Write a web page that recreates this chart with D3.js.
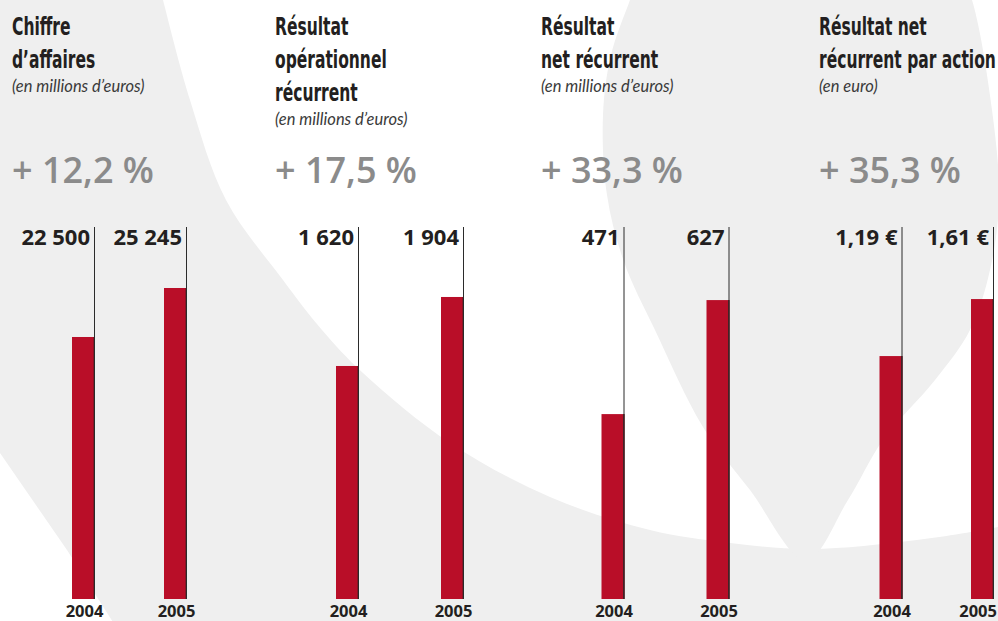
<!DOCTYPE html>
<html>
<head>
<meta charset="utf-8">
<script src="https://cdn.jsdelivr.net/npm/d3@7"></script>
<style>
  html, body { margin: 0; padding: 0; background: #ffffff; }
  svg { display: block; }
</style>
</head>
<body>
<svg id="chart" width="998" height="621"></svg>
<script>
// ---------------- DATA ----------------
const years = ["2004", "2005"];
const titles = [
  ["Chiffre", "d’affaires"],
  ["Résultat", "opérationnel", "récurrent"],
  ["Résultat", "net récurrent"],
  ["Résultat net", "récurrent par action"]
];
const units = [
  "(en millions d’euros)",
  "(en millions d’euros)",
  "(en millions d’euros)",
  "(en euro)"
];
const growthLabels = ["+ 12,2 %", "+ 17,5 %", "+ 33,3 %", "+ 35,3 %"];
const values2004 = [22500, 1620, 471, 1.19];
const values2005 = [25245, 1904, 627, 1.61];
const valueSuffix = ["", "", "", " €"];
const valueDecimals = [0, 0, 0, 2];
// value axis extent of each small chart (bars do not start at zero)
const axisFloor = [7822, 661, 218, -0.6];
const axisCeil = [28662, 2192, 727, 2.141];

// ---------------- LAYOUT ----------------
const W = 998, H = 621;
const panelX = [12, 275, 541, 819];
const barCenterOffsets = [[71.5, 163.5], [72.5, 177.5], [72, 177], [72, 163.5]];
const baseY = 599, topY = 227, barW = 23;
const grey = "#efefef";

const fr = d3.formatLocale({decimal: ",", thousands: " ", grouping: [3], currency: ["", " €"]});

const svg = d3.select("#chart");

// ---------------- BACKGROUND (decorative logo shapes) ----------------
svg.append("rect").attr("width", W).attr("height", H).attr("fill", grey);

const curve = d3.line().curve(d3.curveCatmullRom.alpha(0.5));
const discEdge = [[158,-20],[163,0],[190,100],[226,200],[283,280],[322,330],[363,373],
  [450,443],[550,497],[650,530],[730,543],[810,549],[917,540],[998,527],[1020,522]];
svg.append("path")
  .attr("d", curve(discEdge) + "L1030,-30L150,-30Z")
  .attr("fill", "#ffffff");

const dropEdge = [[645,-40],[630,0],[611,55],[603,115],[607,195],[624,262],[655,330],
  [703,427],[750,490],[806,560],[848,500],[883,440],[935,380],[970,330],[990,270],
  [999,200],[992,110],[972,0],[955,-40]];
svg.append("path")
  .attr("d", curve(dropEdge) + "Z")
  .attr("fill", grey);

svg.append("path")
  .attr("d", d3.line()([[-10,438],[0,453],[67,550],[118,630],[-10,630]]) + "Z")
  .attr("fill", "#ffffff");

// ---------------- PANELS ----------------
const titleFont = "'DejaVu Sans Condensed', 'Liberation Sans Narrow', sans-serif";
const bodyFont = "'Open Sans', 'Noto Sans', sans-serif";

// horizontal compression of the condensed title face, so that the longest
// title line spans the same width as in the original artwork
const probe = svg.append("text")
  .attr("font-family", titleFont).attr("font-weight", "bold").attr("font-size", 24)
  .text("récurrent par action");
const titleScale = 177 / probe.node().getComputedTextLength();
probe.remove();

titles.forEach((lines, i) => {
  const g = svg.append("g").attr("transform", `translate(${panelX[i]},0)`);

  const tg = g.append("g").attr("transform", `scale(${titleScale},1)`);
  lines.forEach((t, j) => {
    tg.append("text")
      .attr("x", 0).attr("y", 35 + j * 33)
      .attr("font-family", titleFont)
      .attr("font-weight", "bold")
      .attr("font-size", 24)
      .attr("fill", "#231f20")
      .text(t);
  });
  const lastY = 35 + (lines.length - 1) * 33;
  g.append("text")
    .attr("x", 0).attr("y", lastY + 24)
    .attr("font-family", "Lato, 'Open Sans', sans-serif")
    .attr("font-style", "italic")
    .attr("font-size", 16.5)
    .attr("fill", "#3a3a3a")
    .text(units[i]);

  g.append("text")
    .attr("x", 0).attr("y", 183)
    .attr("font-family", bodyFont)
    .attr("font-weight", 600)
    .attr("font-size", 36)
    .attr("fill", "#8b8b8b")
    .text(growthLabels[i]);

  // scales
  const x = d3.scalePoint().domain(years)
    .range([panelX[i] + barCenterOffsets[i][0], panelX[i] + barCenterOffsets[i][1]]);
  const y = d3.scaleLinear().domain([axisFloor[i], axisCeil[i]]).range([baseY, topY]);
  const vals = [values2004[i], values2005[i]];
  const fmt = fr.format(`,.${valueDecimals[i]}f`);

  const bars = svg.append("g");
  years.forEach((yr, k) => {
    const cx = x(yr);
    const right = cx + barW / 2;
    bars.append("rect")
      .attr("x", cx - barW / 2).attr("y", y(vals[k]))
      .attr("width", barW).attr("height", baseY - y(vals[k]))
      .attr("fill", "#b90e28");
    bars.append("rect")
      .attr("x", right - 1.5).attr("y", y(vals[k]))
      .attr("width", 1.5).attr("height", baseY - y(vals[k]))
      .attr("fill", "#5a1a22");
    bars.append("line")
      .attr("x1", right - 0.5).attr("x2", right - 0.5)
      .attr("y1", y(axisCeil[i])).attr("y2", baseY)
      .attr("stroke", "#2b2b2b").attr("stroke-width", 1);
    bars.append("text")
      .attr("x", right - 5).attr("y", 245)
      .attr("text-anchor", "end")
      .attr("font-family", bodyFont)
      .attr("font-weight", "bold")
      .attr("font-size", 22)
      .attr("fill", "#231f20")
      .text(fmt(vals[k]) + valueSuffix[i]);
    const yl = bars.append("text")
      .attr("x", cx + 1).attr("y", 617)
      .attr("text-anchor", "middle")
      .attr("font-family", bodyFont)
      .attr("font-weight", "bold")
      .attr("font-size", 16.5)
      .attr("fill", "#231f20")
      .text(yr);
    // keep the year label inside the picture
    const half = yl.node().getComputedTextLength() / 2;
    if (cx + 1 + half > W - 1) yl.attr("x", W - 1 - half);
  });
});
</script>
</body>
</html>
